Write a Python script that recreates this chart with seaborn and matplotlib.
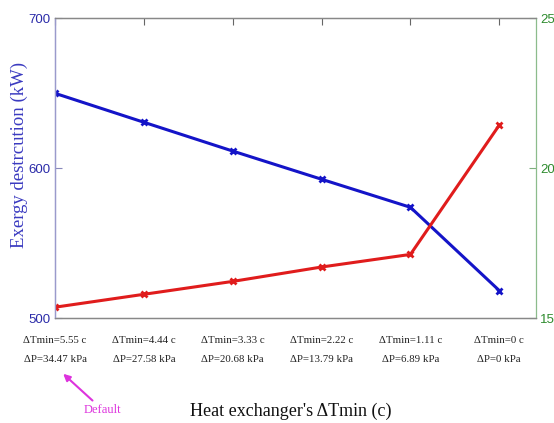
import matplotlib
matplotlib.use("Agg")
import matplotlib.pyplot as plt
import seaborn as sns
import pandas as pd

# ---- data ----
positions = [0, 1, 2, 3, 4, 5]
tmin_labels = ["ΔTmin=5.55 c", "ΔTmin=4.44 c", "ΔTmin=3.33 c",
               "ΔTmin=2.22 c", "ΔTmin=1.11 c", "ΔTmin=0 c"]
dp_labels = ["ΔP=34.47 kPa", "ΔP=27.58 kPa", "ΔP=20.68 kPa",
             "ΔP=13.79 kPa", "ΔP=6.89 kPa", "ΔP=0 kPa"]
exergy = [650.0, 630.7, 611.5, 592.7, 574.0, 518.5]
right_series = [15.37, 15.80, 16.23, 16.71, 17.13, 21.44]

sns.set_theme(style="white")
plt.rcParams['font.family'] = ['Liberation Sans', 'DejaVu Sans']

df = pd.DataFrame({"pos": positions, "exergy": exergy, "right": right_series})

fig = plt.figure(figsize=(5.54, 4.23), dpi=100)
ax = fig.add_axes([0.0993, 0.2475, 0.8677, 0.7092])
ax2 = ax.twinx()

blue = "#1414c8"
red = "#e01c1c"
sns.lineplot(data=df, x="pos", y="exergy", ax=ax, color=blue, lw=2.2,
             marker="x", markersize=5, markeredgewidth=2, markeredgecolor=blue)
sns.lineplot(data=df, x="pos", y="right", ax=ax2, color=red, lw=2.2,
             marker="x", markersize=5, markeredgewidth=2, markeredgecolor=red)

ax.set_xlim(0, 5.41)
ax.set_ylim(500, 700)
ax2.set_ylim(15, 25)
ax.set_yticks([500, 600, 700])
ax2.set_yticks([15, 20, 25])

ax.set_xticks(positions)
ax.set_xticklabels([f"{a}\n{b}" for a, b in zip(tmin_labels, dp_labels)],
                   family=["Liberation Serif", "DejaVu Serif"], fontsize=7.8,
                   linespacing=2.35, color="#222222")
ax.tick_params(axis="x", direction="in", length=5, pad=13, top=True,
               color="#666666", width=0.8)
ax.tick_params(axis="y", direction="in", length=5, labelsize=9.5,
               labelcolor="#2a2aa8", color="#8888bb", width=0.8, pad=3)
ax2.tick_params(axis="y", direction="in", length=5, labelsize=9.5,
                labelcolor="#2e8b2e", color="#7fb07f", width=0.8, pad=3)

for a in (ax, ax2):
    a.spines["top"].set_color("#888888")
    a.spines["bottom"].set_color("#888888")
    for s in a.spines.values():
        s.set_linewidth(0.9)
ax.spines["left"].set_color("#9a9acc")
ax2.spines["left"].set_color("#9a9acc")
ax2.spines["right"].set_color("#8cbc8c")
ax.spines["right"].set_visible(False)

ax.set_ylabel("Exergy destrcution (kW)", family=["Liberation Serif", "DejaVu Serif"],
              fontsize=13.5, color="#3a3ac0")
ax.yaxis.set_label_coords(-0.056, 0.544)
ax2.set_ylabel("")
ax.set_xlabel("Heat exchanger's ΔTmin (c)", family=["Liberation Serif", "DejaVu Serif"],
              fontsize=13, color="#111111")
ax.xaxis.set_label_coords(0.49, -0.28)

ax.annotate("Default", xy=(0.017, -0.185), xycoords="axes fraction",
            xytext=(0.06, -0.305), textcoords="axes fraction",
            fontsize=9, color="#dd33dd", family=["Liberation Serif", "DejaVu Serif"],
            ha="left", va="center",
            arrowprops=dict(arrowstyle="-|>", color="#dd33dd", lw=1.5,
                            shrinkA=0, shrinkB=0, mutation_scale=10))

fig.savefig("out.png", dpi=100)
